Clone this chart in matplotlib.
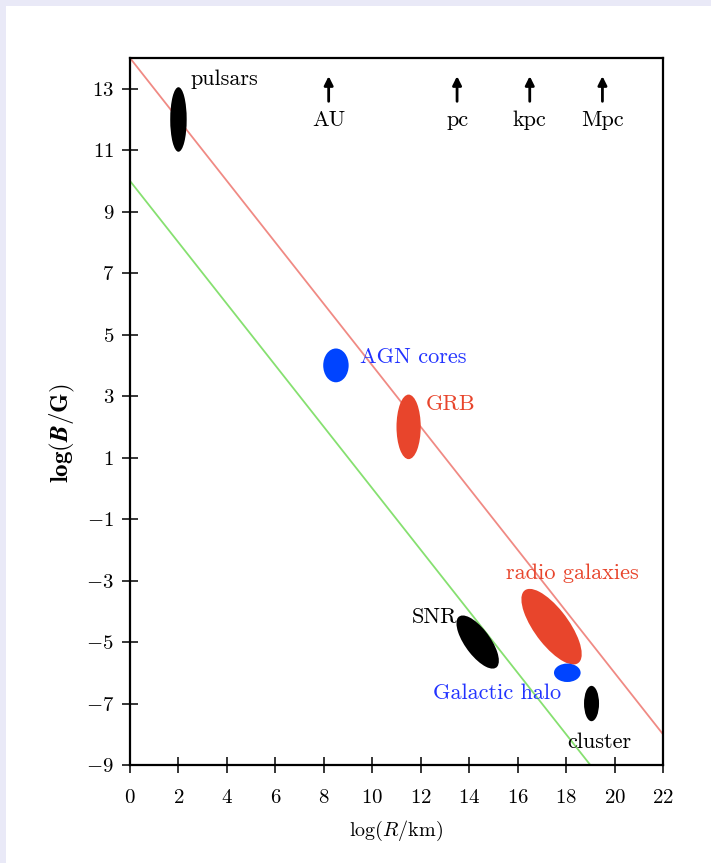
import matplotlib
matplotlib.use("Agg")
import matplotlib.pyplot as plt
from matplotlib.patches import Ellipse, Rectangle

plt.rcParams['font.family'] = ['cmr10', 'DejaVu Serif']
plt.rcParams['mathtext.fontset'] = 'cm'
plt.rcParams['axes.formatter.use_mathtext'] = True

# ---- data ----
objects = ["pulsars", "AGN cores", "GRB", "radio galaxies", "SNR", "Galactic halo", "cluster"]
logR = [2.0, 8.5, 11.5, 17.4, 14.35, 18.05, 19.05]
logB = [12.0, 4.0, 2.0, -4.5, -5.0, -6.0, -7.0]
spanR = [0.68, 1.05, 1.0, 3.25, 2.27, 1.1, 0.62]
spanB = [2.1, 1.1, 2.1, 1.3, 0.95, 0.6, 1.15]
tilt = [0, 0, 0, -44.5, -44.5, 0, 0]
obj_colors = ["black", "#0044ff", "#e8452c", "#e8452c", "black", "#0044ff", "black"]

label_x = [2.5, 9.5, 12.2, 15.5, 13.5, 12.5, 18.05]
label_y = [13.3, 4.25, 2.75, -2.75, -4.2, -6.65, -8.25]
label_ha = ["left", "left", "left", "left", "right", "left", "left"]
label_colors = ["black", "#2233ff", "#e8452c", "#e8452c", "black", "#2233ff", "black"]

scale_names = ["AU", "pc", "kpc", "Mpc"]
scale_logR = [8.2, 13.5, 16.5, 19.5]

red_line_x = [0, 22]
red_line_y = [14, -8]
green_line_x = [0, 19]
green_line_y = [10, -9]

xticks = list(range(0, 23, 2))
yticks = list(range(-9, 14, 2))

# ---- figure ----
fig = plt.figure(figsize=(7.11, 8.63), dpi=100)
fig.patch.set_facecolor("#e9e9f7")
fig.patches.append(Rectangle((6/711, 0), 1, 1 - 6/863, transform=fig.transFigure,
                             facecolor="white", edgecolor="none", zorder=-10))

ax = fig.add_axes([130/711, 1 - 765/863, (663-130)/711, (765-58)/863])
ax.set_facecolor("white")
ax.set_xlim(0, 22)
ax.set_ylim(-9, 14)

ax.plot(red_line_x, red_line_y, color="#f08a84", lw=1.3, zorder=2)
ax.plot(green_line_x, green_line_y, color="#86e070", lw=1.3, zorder=2)

for x, y, w, h, a, c in zip(logR, logB, spanR, spanB, tilt, obj_colors):
    ax.add_patch(Ellipse((x, y), w, h, angle=a, facecolor=c, edgecolor="none", zorder=3))

for name, x, y, ha, c in zip(objects, label_x, label_y, label_ha, label_colors):
    ax.text(x, y, name, ha=ha, va="center", color=c, fontsize=16, zorder=4)

for name, x in zip(scale_names, scale_logR):
    ax.annotate("", xy=(x, 13.5), xytext=(x, 12.5),
                arrowprops=dict(arrowstyle="-|>", color="black", lw=2, mutation_scale=13))
    ax.text(x, 11.96, name, ha="center", va="center", fontsize=16)

ax.set_xticks(xticks)
ax.set_yticks(yticks)
ax.tick_params(direction="inout", length=11, width=1.1, labelsize=15, pad=8)
ax.tick_params(axis="x", pad=12)
ax.tick_params(axis="y", pad=6)
for s in ax.spines.values():
    s.set_linewidth(1.6)

ax.set_xlabel(r"$\log(R/\mathrm{km})$", fontsize=14.5, labelpad=8)
ax.set_ylabel(r"$\mathbf{log(}\boldsymbol{B}\mathbf{/G)}$", fontsize=18)
ax.yaxis.set_label_coords(-0.10, 0.47)

fig.savefig("out.png", dpi=100)
